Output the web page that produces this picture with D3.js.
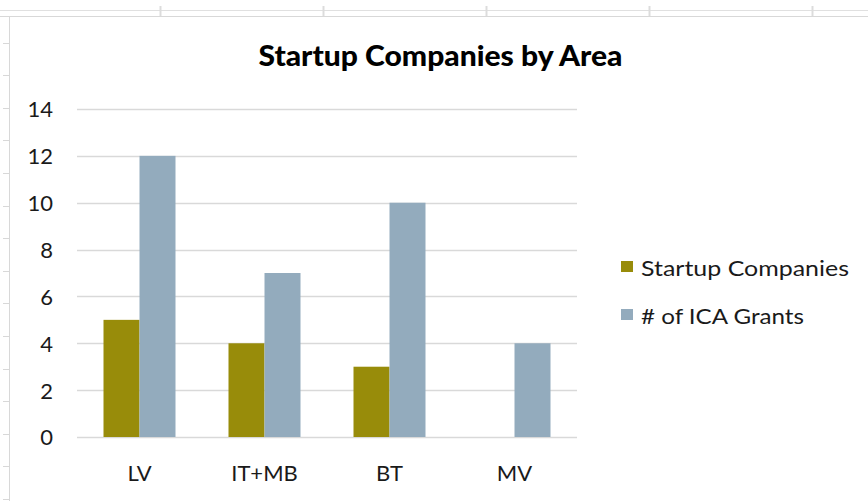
<!DOCTYPE html>
<html><head><meta charset="utf-8">
<script src="https://cdn.jsdelivr.net/npm/d3@7"></script>
<style>body{margin:0;background:#fff}svg{display:block}text{font-family:Lato,"Open Sans",sans-serif}</style>
</head><body>
<svg id="c" width="868" height="501"></svg>
<script>
const categories = ["LV", "IT+MB", "BT", "MV"];
const seriesNames = ["Startup Companies", "# of ICA Grants"];
const startupCompanies = [5, 4, 3, 0];
const icaGrants = [12, 7, 10, 4];
const yTicks = [0, 2, 4, 6, 8, 10, 12, 14];
const colors = ["#988C0A", "#93ABBD"];

const svg = d3.select("#c");

// spreadsheet background
const bg = svg.append("g");
bg.append("line").attr("x1",0).attr("x2",868).attr("y1",10.5).attr("y2",10.5).attr("stroke","#e0e0e0");
bg.append("line").attr("x1",0).attr("x2",868).attr("y1",16.5).attr("y2",16.5).attr("stroke","#d8d8d8");
bg.append("line").attr("x1",9.5).attr("x2",9.5).attr("y1",16).attr("y2",501).attr("stroke","#d8d8d8");
[160,323,486,649,812].forEach(x=>bg.append("line").attr("x1",x+0.5).attr("x2",x+0.5).attr("y1",6).attr("y2",16).attr("stroke","#dcdcdc").attr("stroke-width",2));
d3.range(42.5, 501, 32.6).forEach(y=>bg.append("line").attr("x1",3).attr("x2",9).attr("y1",Math.round(y)+0.5).attr("y2",Math.round(y)+0.5).attr("stroke","#d8d8d8"));

const x0 = d3.scaleBand().domain(categories).range([77, 577]).paddingInner(0).paddingOuter(0);
const y = d3.scaleLinear().domain([0, 14]).range([437, 109]);
const barW = 36;

// gridlines
svg.append("g").selectAll("line").data(yTicks).join("line")
  .attr("x1",77).attr("x2",577).attr("y1",d=>Math.round(y(d))+0.5).attr("y2",d=>Math.round(y(d))+0.5)
  .attr("stroke","#d9d9d9").attr("stroke-width",1.3);

// y axis labels
const yAxis = d3.axisLeft(y).tickValues(yTicks).tickSize(0).tickPadding(0);
const ya = svg.append("g").attr("transform","translate(53,0)").call(yAxis);
ya.select(".domain").remove();
ya.selectAll("text").attr("font-size",22).attr("fill","#1a1a1a").attr("font-family","Lato,sans-serif").attr("dy","0.36em");

// bars
const data = [startupCompanies, icaGrants];
data.forEach((vals, si) => {
  svg.append("g").selectAll("rect").data(categories.map((c,i)=>({c, v:vals[i]}))).join("rect")
    .attr("x", d => x0(d.c) + x0.bandwidth()/2 - barW + si*barW)
    .attr("width", barW)
    .attr("y", d => y(d.v))
    .attr("height", d => y(0) - y(d.v))
    .attr("fill", colors[si]);
});

// x axis labels
const xAxis = d3.axisBottom(x0).tickSize(0).tickPadding(0);
const xa = svg.append("g").attr("transform","translate(0,481)").call(xAxis);
xa.select(".domain").remove();
xa.selectAll("text").attr("font-size",22).attr("fill","#1a1a1a").attr("font-family","Lato,sans-serif").attr("dy","0");

// title
svg.append("text").attr("x",440.5).attr("y",66).attr("text-anchor","middle")
  .attr("font-size",28).attr("font-weight","900").attr("fill","#000")
  .attr("textLength",364).attr("lengthAdjust","spacingAndGlyphs").text("Startup Companies by Area");

// legend
const legendLen = [208, 163];
const lg = svg.append("g");
seriesNames.forEach((n,i)=>{
  const yy = 261 + i*48;
  lg.append("rect").attr("x",621).attr("y",yy).attr("width",12).attr("height",11).attr("fill",colors[i]);
  lg.append("text").attr("x",641).attr("y",yy+15).attr("font-size",22).attr("fill","#1a1a1a")
    .attr("textLength",legendLen[i]).attr("lengthAdjust","spacingAndGlyphs").text(n);
});
</script>
</body></html>
